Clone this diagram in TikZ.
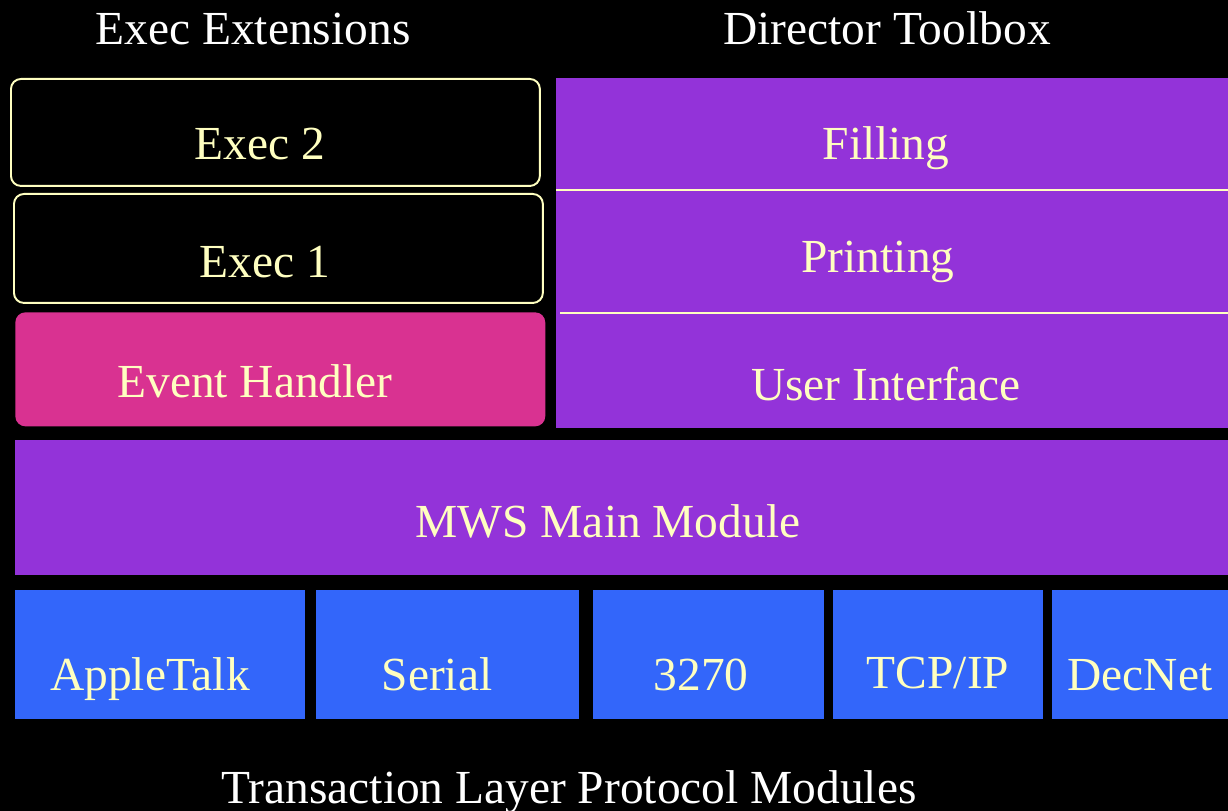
\documentclass[tikz,border=0pt]{standalone}
\usepackage{fontspec}
\setmainfont{Liberation Serif}
\usetikzlibrary{positioning}
\definecolor{creme}{RGB}{255,255,192}
\definecolor{lila}{RGB}{147,51,217}
\definecolor{pink}{RGB}{217,50,145}
\definecolor{blau}{RGB}{51,102,250}
\tikzset{
    feld/.style={
        anchor=north west,
        inner sep=0pt,
        draw=none
    },
    execbox/.style={
        feld,
        draw=creme,          % helle Kontur
        line width=1.1pt,
        rounded corners=0.2cm
    },
    schrift/.style={
        text=creme,
        anchor=base,         % Position = Grundlinie
        font=\fontsize{27}{30}\selectfont,
        inner sep=0pt
    },
    titel/.style={
        schrift,
        text=white
    }
}

\begin{document}
\begin{tikzpicture}[x=0.02cm, y=-0.02cm]

    % Hintergrund und Bildgrenzen
    \fill[black] (0,0) rectangle (1228,811);
    \useasboundingbox (0,0) rectangle (1228,811);

    % Überschriften
    \node[titel] (titelExec) at (253,45) {Exec Extensions};
    \node[titel] (titelDir) at (887,45) {Director Toolbox};

    % Linke Spalte: Exec-Erweiterungen
    \node[execbox, minimum width=10.58cm, minimum height=2.14cm] (exec2) at (10,78) {};
    \node[execbox, minimum width=10.58cm, minimum height=2.18cm] (exec1) at (13,193) {};
    \node[feld, fill=pink, rounded corners=0.2cm, minimum width=10.6cm, minimum height=2.28cm] (event) at (15,312) {};
    \node[schrift] (txtExec2) at (260,160) {Exec 2};
    \node[schrift] (txtExec1) at (265,277) {Exec 1};
    \node[schrift] (txtEvent) at (255,397) {Event Handler};

    % Rechte Spalte: Director Toolbox
    \node[feld, fill=lila, minimum width=13.44cm, minimum height=7cm] (toolbox) at (556,78) {};
    \coordinate (trennA) at (556,190);
    \coordinate (trennB) at (560,313);
    \draw[creme, line width=1.1pt] (trennA) -- (trennA -| toolbox.east);
    \draw[creme, line width=1.1pt] (trennB) -- (trennB -| toolbox.east);
    \node[schrift] (txtFill) at (886,160) {Filling};
    \node[schrift] (txtPrint) at (878,273) {Printing};
    \node[schrift] (txtUI) at (886,400) {User Interface};

    % Hauptmodul
    \node[feld, fill=lila, minimum width=24.26cm, minimum height=2.7cm] (mws) at (15,440) {};
    \node[schrift] (txtMWS) at (608,537) {MWS Main Module};

    % Protokollmodule
    \node[feld, fill=blau, minimum width=5.8cm, minimum height=2.58cm] (apple) at (15,590) {};
    \node[feld, fill=blau, minimum width=5.26cm, minimum height=2.58cm] (serial) at (316,590) {};
    \node[feld, fill=blau, minimum width=4.62cm, minimum height=2.58cm] (ibm) at (593,590) {};
    \node[feld, fill=blau, minimum width=4.2cm, minimum height=2.58cm] (tcp) at (833,590) {};
    \node[feld, fill=blau, minimum width=3.52cm, minimum height=2.58cm] (dec) at (1052,590) {};
    \node[schrift] (txtApple) at (150,690) {AppleTalk};
    \node[schrift] (txtSerial) at (437,690) {Serial};
    \node[schrift] (txtIbm) at (701,690) {3270};
    \node[schrift] (txtTcp) at (938,688) {TCP/IP};
    \node[schrift] (txtDec) at (1140,690) {DecNet};

    % Unterschrift
    \node[titel] (titelTrans) at (569,803) {Transaction Layer Protocol Modules};

\end{tikzpicture}
\end{document}
